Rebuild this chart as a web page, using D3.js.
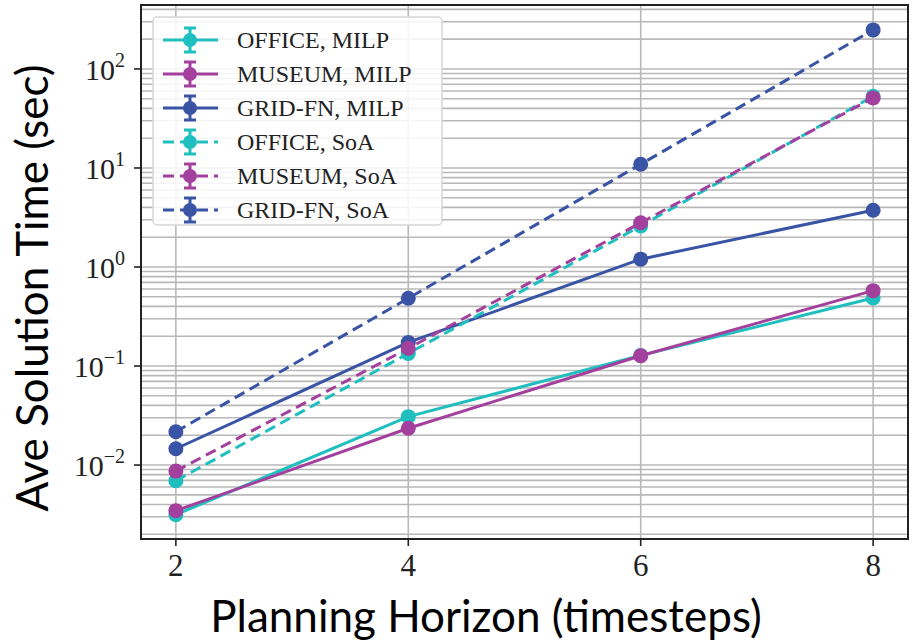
<!DOCTYPE html>
<head>
  <meta charset="utf-8">
  <script src="https://cdn.jsdelivr.net/npm/d3@7"></script>
  <style>
    body { margin: 0; background: #fff; }
    svg { display: block; }
    .tick-label { font-family: "Liberation Serif", "DejaVu Serif", serif; fill: #222; }
    .axis-title { font-family: Lato, "Open Sans", sans-serif; fill: #000; }
  </style>
</head>
<body>
  <div id="chart"></div>
  <script>

  var horizons = [2, 4, 6, 8]

  var officeMilp = [0.00315, 0.0308, 0.128, 0.486]
  var museumMilp = [0.00346, 0.0235, 0.127, 0.577]
  var gridMilp   = [0.0146, 0.173, 1.20, 3.74]
  var officeSoa  = [0.00695, 0.134, 2.6, 53]
  var museumSoa  = [0.00869, 0.151, 2.8, 51]
  var gridSoa    = [0.0217, 0.483, 10.9, 248]

  var seriesNames = ["OFFICE, MILP", "MUSEUM, MILP", "GRID-FN, MILP", "OFFICE, SoA", "MUSEUM, SoA", "GRID-FN, SoA"]
  var seriesValues = [officeMilp, museumMilp, gridMilp, officeSoa, museumSoa, gridSoa]
  var seriesDashed = [false, false, false, true, true, true]

  var cyan = "#1fbfbf", magenta = "#a3409d", blue = "#3953a5"
  var seriesColors = [cyan, magenta, blue, cyan, magenta, blue]

  var width = 912, height = 641
  var margin = {top: 5, right: 4, bottom: 102, left: 141}
  var plotW = width - margin.left - margin.right
  var plotH = height - margin.top - margin.bottom

  var x = d3.scaleLinear().domain([1.7, 8.3]).range([0, plotW])
  var y = d3.scaleLog().domain([Math.pow(10, -2.747), Math.pow(10, 2.646)]).range([plotH, 0])

  var svg = d3.select("#chart").append("svg")
      .attr("width", width)
      .attr("height", height)

  var g = svg.append("g")
      .attr("transform", "translate(" + margin.left + "," + margin.top + ")")

  // grid: minor + major on y, majors on x
  var yGrid = []
  for (var k = -3; k <= 2; k++) {
    for (var m = 1; m <= 9; m++) {
      var v = m * Math.pow(10, k)
      if (v >= y.domain()[0] && v <= y.domain()[1]) yGrid.push(v)
    }
  }

  g.selectAll(".hgrid")
      .data(yGrid)
    .enter().append("line")
      .attr("class", "hgrid")
      .attr("x1", 0).attr("x2", plotW)
      .attr("y1", function(d) { return y(d) })
      .attr("y2", function(d) { return y(d) })
      .style("stroke", "#b8b8b8")
      .style("stroke-width", 1.6)

  g.selectAll(".vgrid")
      .data(horizons)
    .enter().append("line")
      .attr("class", "vgrid")
      .attr("y1", 0).attr("y2", plotH)
      .attr("x1", function(d) { return x(d) })
      .attr("x2", function(d) { return x(d) })
      .style("stroke", "#b8b8b8")
      .style("stroke-width", 1.6)

  // series
  var line = d3.line()
      .x(function(d) { return x(d[0]) })
      .y(function(d) { return y(d[1]) })

  seriesValues.forEach(function(vals, i) {
    var pts = horizons.map(function(h, j) { return [h, vals[j]] })
    g.append("path")
        .datum(pts)
        .attr("d", line)
        .style("fill", "none")
        .style("stroke", seriesColors[i])
        .style("stroke-width", 3)
        .style("stroke-dasharray", seriesDashed[i] ? "11,6" : null)
    g.selectAll(".pt" + i)
        .data(pts)
      .enter().append("circle")
        .attr("cx", function(d) { return x(d[0]) })
        .attr("cy", function(d) { return y(d[1]) })
        .attr("r", 7.5)
        .style("fill", seriesColors[i])
  })

  // frame
  g.append("rect")
      .attr("width", plotW)
      .attr("height", plotH)
      .style("fill", "none")
      .style("stroke", "#222")
      .style("stroke-width", 2)

  // x ticks
  var xt = g.selectAll(".xtick")
      .data(horizons)
    .enter().append("g")
      .attr("transform", function(d) { return "translate(" + x(d) + "," + plotH + ")" })
  xt.append("line").attr("y2", 7).style("stroke", "#222").style("stroke-width", 1.6)
  xt.append("text")
      .attr("class", "tick-label")
      .attr("y", 37)
      .attr("text-anchor", "middle")
      .style("font-size", "31px")
      .text(function(d) { return d })

  // y ticks
  var yMajor = [0.01, 0.1, 1, 10, 100]
  var yt = g.selectAll(".ytick")
      .data(yMajor)
    .enter().append("g")
      .attr("transform", function(d) { return "translate(0," + y(d) + ")" })
  yt.append("line").attr("x2", -7).style("stroke", "#222").style("stroke-width", 1.6)
  var ytxt = yt.append("text")
      .attr("class", "tick-label")
      .attr("x", -16)
      .attr("y", 11)
      .attr("text-anchor", "end")
      .style("font-size", "30px")
  ytxt.append("tspan").text("10")
  ytxt.append("tspan")
      .attr("dy", -13)
      .style("font-size", "20px")
      .text(function(d) { var e = Math.round(Math.log10(d)); return e < 0 ? "\u2212" + (-e) : e })

  // legend
  var legend = g.append("g").attr("transform", "translate(12,12)")
  legend.append("rect")
      .attr("width", 289)
      .attr("height", 208)
      .attr("rx", 4)
      .style("fill", "rgba(255,255,255,0.85)")
      .style("stroke", "#d6d6d6")
      .style("stroke-width", 1.5)

  var items = legend.selectAll(".item")
      .data(seriesNames)
    .enter().append("g")
      .attr("transform", function(d, i) { return "translate(0," + (23 + i * 34) + ")" })
  items.append("line")
      .attr("x1", 10).attr("x2", 65)
      .style("stroke", function(d, i) { return seriesColors[i] })
      .style("stroke-width", 3)
      .style("stroke-dasharray", function(d, i) { return seriesDashed[i] ? "11,6" : null })
  items.append("line")
      .attr("x1", 37).attr("x2", 37)
      .attr("y1", -12).attr("y2", 12)
      .style("stroke", function(d, i) { return seriesColors[i] })
      .style("stroke-width", 3)
  items.selectAll(".cap")
      .data(function(d, i) { return [[-12, i], [12, i]] })
    .enter().append("line")
      .attr("x1", 31).attr("x2", 43)
      .attr("y1", function(d) { return d[0] })
      .attr("y2", function(d) { return d[0] })
      .style("stroke", function(d) { return seriesColors[d[1]] })
      .style("stroke-width", 3)
  items.append("circle")
      .attr("cx", 37)
      .attr("r", 7)
      .style("fill", function(d, i) { return seriesColors[i] })
  items.append("text")
      .attr("class", "tick-label")
      .attr("x", 84)
      .attr("y", 8)
      .style("font-size", "24px")
      .text(function(d) { return d })

  // axis titles
  svg.append("text")
      .attr("class", "axis-title")
      .attr("x", 486)
      .attr("y", 632)
      .attr("text-anchor", "middle")
      .style("font-size", "44px")
      .text("Planning Horizon (timesteps)")

  svg.append("text")
      .attr("class", "axis-title")
      .attr("transform", "translate(48,288) rotate(-90)")
      .attr("text-anchor", "middle")
      .style("font-size", "44px")
      .text("Ave Solution Time (sec)")

  </script>
</body>
